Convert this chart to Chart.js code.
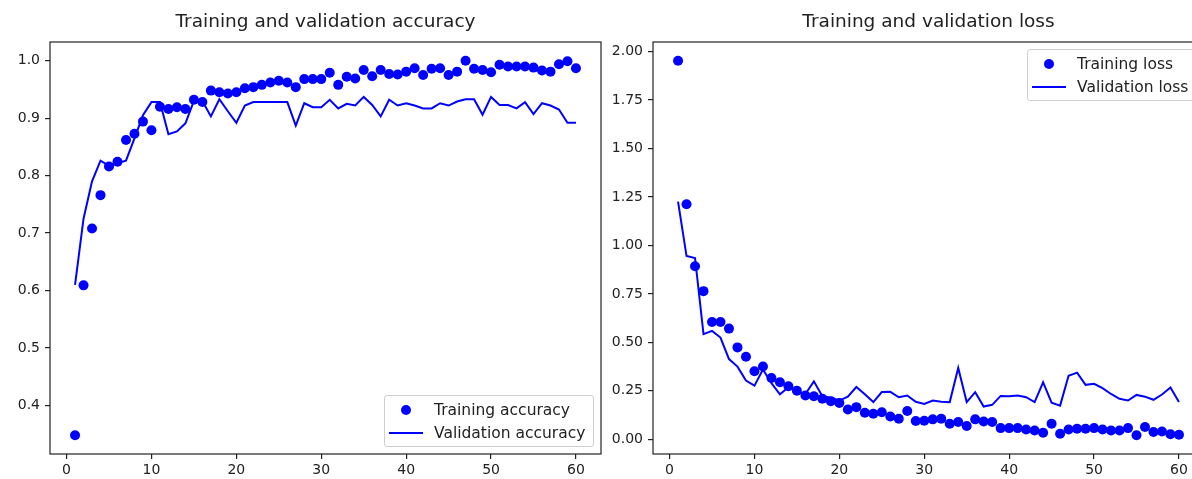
<!DOCTYPE html>
<html>
<head>
<meta charset="utf-8">
<title>Training curves</title>
<script src="https://cdn.jsdelivr.net/npm/chart.js@4.4.1/dist/chart.umd.min.js"></script>
<style>
  html, body { margin: 0; padding: 0; background: #fff; overflow: hidden; }
  #wrap { position: relative; width: 1192px; height: 479px; overflow: hidden; font-family: "DejaVu Sans", sans-serif; }
  .panel { position: absolute; top: 0; height: 479px; }
  #accPanel { left: 0; width: 606px; }
  #lossPanel { left: 606px; width: 620px; }
  .legend { position: absolute; background: rgba(255,255,255,0.8); border: 1px solid #cfcfcf; border-radius: 3px;
            padding: 2px 8px 2px 4px; font-size: 15.5px; color: #222; white-space: nowrap; }
  .legend .row { display: flex; align-items: center; height: 23px; }
  .legend .sym { position: relative; flex: none; width: 34px; height: 23px; margin-right: 11px; }
  .legend .sym i { position: absolute; display: block; }
  .legend .dot i { left: 12px; top: 6.5px; width: 10px; height: 10px; border-radius: 50%; }
  .legend .line i { left: 0; right: 0; top: 10.5px; height: 2px; }
</style>
</head>
<body>
<div id="wrap">
  <div class="panel" id="accPanel">
    <canvas id="accChart" width="606" height="479"></canvas>
    <div class="legend" id="accLegend"></div>
  </div>
  <div class="panel" id="lossPanel">
    <canvas id="lossChart" width="620" height="479"></canvas>
    <div class="legend" id="lossLegend"></div>
  </div>
</div>
<script>
const epochs = [1, 2, 3, 4, 5, 6, 7, 8, 9, 10, 11, 12, 13, 14, 15, 16, 17, 18, 19, 20,
  21, 22, 23, 24, 25, 26, 27, 28, 29, 30, 31, 32, 33, 34, 35, 36, 37, 38, 39, 40,
  41, 42, 43, 44, 45, 46, 47, 48, 49, 50, 51, 52, 53, 54, 55, 56, 57, 58, 59, 60];

const trainAcc = [0.348, 0.609, 0.708, 0.766, 0.816, 0.824, 0.862, 0.873, 0.894, 0.879,
  0.920, 0.916, 0.919, 0.916, 0.932, 0.928, 0.948, 0.945, 0.943, 0.945,
  0.952, 0.954, 0.958, 0.962, 0.965, 0.962, 0.954, 0.968, 0.968, 0.968,
  0.979, 0.958, 0.972, 0.969, 0.984, 0.973, 0.984, 0.977, 0.976, 0.981,
  0.987, 0.975, 0.986, 0.987, 0.975, 0.981, 1.000, 0.986, 0.984, 0.980,
  0.993, 0.990, 0.990, 0.990, 0.988, 0.983, 0.981, 0.994, 0.999, 0.987];

const valAcc = [0.610, 0.725, 0.790, 0.826, 0.817, 0.822, 0.826, 0.865, 0.905, 0.928,
  0.928, 0.872, 0.877, 0.891, 0.930, 0.930, 0.903, 0.933, 0.912, 0.892,
  0.922, 0.928, 0.928, 0.928, 0.928, 0.928, 0.887, 0.926, 0.919, 0.919,
  0.932, 0.917, 0.925, 0.922, 0.937, 0.923, 0.903, 0.932, 0.922, 0.926,
  0.922, 0.917, 0.917, 0.926, 0.922, 0.929, 0.933, 0.933, 0.906, 0.937,
  0.923, 0.923, 0.917, 0.928, 0.907, 0.926, 0.922, 0.915, 0.892, 0.892];

const trainLoss = [1.952, 1.212, 0.892, 0.764, 0.605, 0.605, 0.571, 0.474, 0.426, 0.351,
  0.376, 0.316, 0.294, 0.274, 0.251, 0.226, 0.222, 0.209, 0.197, 0.188,
  0.154, 0.166, 0.137, 0.132, 0.140, 0.118, 0.106, 0.146, 0.095, 0.096,
  0.103, 0.106, 0.080, 0.089, 0.069, 0.103, 0.092, 0.089, 0.058, 0.058,
  0.058, 0.051, 0.046, 0.034, 0.080, 0.029, 0.051, 0.055, 0.055, 0.058,
  0.051, 0.046, 0.046, 0.058, 0.021, 0.064, 0.038, 0.040, 0.026, 0.024];

const valLoss = [1.226, 0.945, 0.935, 0.542, 0.559, 0.525, 0.414, 0.375, 0.303, 0.277,
  0.360, 0.290, 0.232, 0.269, 0.243, 0.234, 0.299, 0.222, 0.214, 0.200,
  0.220, 0.270, 0.232, 0.192, 0.244, 0.245, 0.217, 0.226, 0.194, 0.182,
  0.200, 0.194, 0.192, 0.368, 0.192, 0.243, 0.169, 0.178, 0.224, 0.222,
  0.226, 0.217, 0.192, 0.294, 0.189, 0.174, 0.328, 0.344, 0.281, 0.286,
  0.264, 0.234, 0.209, 0.200, 0.229, 0.220, 0.204, 0.231, 0.267, 0.192];

const xTicks = [0, 10, 20, 30, 40, 50, 60];
const accTicks = [0.4, 0.5, 0.6, 0.7, 0.8, 0.9, 1.0];
const lossTicks = [0, 0.25, 0.5, 0.75, 1.0, 1.25, 1.5, 1.75, 2.0];

const BLUE = '#0000ff';
const INK = '#222';

Chart.defaults.font.family = "'DejaVu Sans', sans-serif";
Chart.defaults.font.size = 14;
Chart.defaults.color = INK;

function pts(ys){
  return epochs.map((e, i) => ({ x: e, y: ys[i] }));
}

// 5% margin on each side, same as matplotlib autoscale
function padRange(values){
  const lo = Math.min(...values), hi = Math.max(...values);
  const m = (hi - lo) * 0.05;
  return { min: lo - m, max: hi + m };
}

// full box round the plot area
const frame = {
  id: 'frame',
  afterDatasetsDraw(chart){
    const { ctx, chartArea: a } = chart;
    ctx.save();
    ctx.strokeStyle = INK;
    ctx.lineWidth = 1.2;
    ctx.strokeRect(a.left, a.top, a.right - a.left, a.bottom - a.top);
    ctx.restore();
  }
};

// legend as html, placed in a corner of the plot area
const htmlLegend = {
  id: 'htmlLegend',
  afterRender(chart, args, opts){
    const box = document.getElementById(opts.el);
    if (!box.childElementCount){
      chart.data.datasets.forEach(ds => {
        const row = document.createElement('div');
        row.className = 'row';
        const sym = document.createElement('span');
        const isDot = ds.showLine === false;
        sym.className = 'sym ' + (isDot ? 'dot' : 'line');
        const mark = document.createElement('i');
        mark.style.background = isDot ? ds.pointBackgroundColor : ds.borderColor;
        sym.appendChild(mark);
        const txt = document.createElement('span');
        txt.textContent = ds.label;
        row.append(sym, txt);
        box.appendChild(row);
      });
    }
    const a = chart.chartArea, gap = 7;
    box.style.left = (a.right - gap - box.offsetWidth) + 'px';
    box.style.top = opts.corner === 'lower'
      ? (a.bottom - gap - box.offsetHeight) + 'px'
      : (a.top + gap) + 'px';
  }
};

function axisTicks(list){
  return s => { s.ticks = list.map(v => ({ value: v })); };
}

function tickGrid(){
  return { display: true, drawOnChartArea: false, drawTicks: true, tickLength: 5, color: INK, lineWidth: 1.2 };
}

function makeChart(canvasId, cfg){
  const xr = padRange(epochs);
  const yr = padRange(cfg.train.concat(cfg.val));
  return new Chart(document.getElementById(canvasId), {
    type: 'line',
    data: {
      datasets: [
        { label: cfg.trainLabel, data: pts(cfg.train), showLine: false, order: 1,
          pointRadius: 5, pointBorderWidth: 0, pointBackgroundColor: BLUE, borderColor: BLUE },
        { label: cfg.valLabel, data: pts(cfg.val), order: 0,
          borderColor: BLUE, borderWidth: 2, pointRadius: 0, tension: 0, fill: false }
      ]
    },
    options: {
      responsive: false,
      animation: false,
      layout: { padding: { left: 0, right: cfg.padRight, top: 0, bottom: 0 } },
      plugins: {
        legend: { display: false },
        tooltip: { enabled: false },
        title: { display: true, text: cfg.title, fullSize: false, color: INK,
                 font: { size: 18.5, weight: 'normal' }, padding: { top: 11, bottom: 8.8 } },
        htmlLegend: { el: cfg.legendEl, corner: cfg.corner }
      },
      scales: {
        x: {
          type: 'linear', min: xr.min, max: xr.max,
          afterBuildTicks: axisTicks(xTicks),
          afterFit: s => { s.height = 25; },
          grid: tickGrid(), border: { display: false },
          ticks: { padding: 3, maxRotation: 0, autoSkip: false, callback: v => String(v) }
        },
        y: {
          min: yr.min, max: yr.max,
          afterBuildTicks: axisTicks(cfg.yTicks),
          afterFit: s => { s.width = cfg.yWidth; },
          grid: tickGrid(), border: { display: false },
          ticks: { padding: 5, autoSkip: false, callback: v => v.toFixed(cfg.digits) }
        }
      }
    },
    plugins: [frame, htmlLegend]
  });
}

makeChart('accChart', {
  title: 'Training and validation accuracy',
  trainLabel: 'Training accuracy', valLabel: 'Validation accuracy',
  train: trainAcc, val: valAcc, yTicks: accTicks, digits: 1,
  yWidth: 50, padRight: 3, legendEl: 'accLegend', corner: 'lower'
});

makeChart('lossChart', {
  title: 'Training and validation loss',
  trainLabel: 'Training loss', valLabel: 'Validation loss',
  train: trainLoss, val: valLoss, yTicks: lossTicks, digits: 2,
  yWidth: 47, padRight: 22, legendEl: 'lossLegend', corner: 'upper'
});
</script>
</body>
</html>
